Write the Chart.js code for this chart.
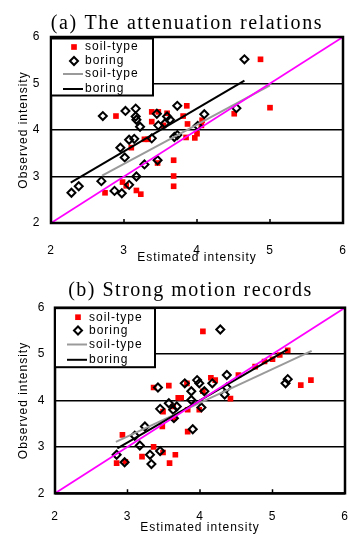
<!DOCTYPE html>
<html>
<head>
<meta charset="utf-8">
<script src="https://cdn.jsdelivr.net/npm/chart.js@4.4.1/dist/chart.umd.min.js"></script>
<style>
  html, body { margin: 0; padding: 0; background: #fff; overflow: hidden; width: 349px; height: 534px; }
  .panel { position: absolute; left: 0; }
</style>
</head>
<body>
<div class="panel" style="top:0;width:349px;height:267px"><canvas id="chartA"></canvas></div>
<div class="panel" style="top:267px;width:351px;height:270px"><canvas id="chartB"></canvas></div>
<script>
// ---- data ----
const TICK_MIN = 2, TICK_MAX = 6, TICK_STEP = 1;
const LEGEND_LABELS = ['soil-type', 'boring', 'soil-type', 'boring'];
const TITLE_A = '(a) The attenuation relations';
const TITLE_B = '(b) Strong motion records';
const X_TITLE = 'Estimated intensity';
const Y_TITLE = 'Observed intensity';
const IDENTITY = [[2, 2], [6, 6]];

// (a) attenuation relations
const A_SOIL = [
  [4.87, 5.52], [5.00, 4.48], [4.51, 4.35], [2.89, 4.30], [3.38, 4.39], [3.47, 4.39],
  [3.59, 4.36], [3.86, 4.52], [3.81, 4.30], [3.38, 4.18], [3.54, 4.10], [3.87, 4.13],
  [4.06, 4.10], [4.07, 4.21], [3.85, 3.84], [3.97, 3.83], [4.00, 3.92], [3.28, 3.80],
  [3.33, 3.80], [3.10, 3.62], [3.46, 3.29], [3.68, 3.35], [3.68, 3.01], [3.68, 2.79],
  [2.74, 2.65], [2.98, 2.88], [3.03, 2.80], [3.17, 2.70], [3.23, 2.62]
];
const A_BORING = [
  [4.65, 5.52], [2.71, 4.30], [3.02, 4.41], [3.16, 4.46], [3.16, 4.29], [3.17, 4.22],
  [3.22, 4.07], [3.45, 4.35], [3.59, 4.29], [3.63, 4.22], [3.73, 4.52], [3.47, 4.10],
  [3.56, 4.14], [4.10, 4.34], [4.54, 4.47], [4.01, 4.09], [3.38, 3.82], [3.69, 3.85],
  [3.73, 3.89], [3.07, 3.79], [3.14, 3.81], [2.95, 3.62], [3.01, 3.41], [3.28, 3.26],
  [3.46, 3.35], [2.69, 2.90], [3.17, 3.00], [3.07, 2.82], [2.87, 2.69], [2.97, 2.64],
  [2.38, 2.79], [2.28, 2.65]
];
const A_SOIL_FIT = [[2.70, 3.02], [5.00, 4.96]];
const A_BORING_FIT = [[2.27, 2.87], [4.65, 5.06]];

// (b) strong motion records
const B_SOIL = [
  [4.04, 5.49], [5.39, 4.33], [5.53, 4.44], [4.15, 4.49], [4.21, 4.44], [3.57, 4.32],
  [3.36, 4.28], [3.82, 4.37], [3.70, 4.06], [3.74, 4.06], [4.04, 4.20], [4.42, 4.04],
  [3.49, 3.76], [3.63, 3.87], [3.83, 3.80], [3.99, 3.80], [3.64, 3.62], [3.48, 3.44],
  [3.83, 3.33], [2.93, 3.26], [3.36, 3.00], [3.49, 2.88], [3.20, 2.79], [3.66, 2.83],
  [2.85, 2.65], [3.58, 2.65], [2.97, 2.68], [4.53, 4.55], [4.76, 4.73], [4.89, 4.84],
  [5.00, 4.89], [5.10, 4.98], [5.21, 5.08]
];
const B_BORING = [
  [4.28, 5.53], [5.18, 4.37], [5.21, 4.46], [4.37, 4.55], [4.37, 4.28], [3.42, 4.28],
  [3.79, 4.37], [3.96, 4.44], [3.99, 4.37], [3.88, 4.20], [4.17, 4.37], [4.06, 4.20],
  [3.45, 3.82], [3.57, 3.94], [3.68, 3.87], [3.63, 3.80], [3.88, 4.01], [3.64, 3.62],
  [3.90, 3.38], [3.24, 3.44], [3.10, 3.24], [3.17, 3.03], [2.85, 2.83], [2.96, 2.67],
  [3.31, 2.83], [3.33, 2.63], [3.45, 2.91], [4.02, 3.85], [4.34, 4.13]
];
const B_SOIL_FIT = [[2.84, 3.11], [5.54, 5.07]];
const B_BORING_FIT = [[2.86, 2.97], [5.21, 5.10]];

// ---- drawing ----
const SANS = '"Liberation Sans", Arial, sans-serif';
const SERIF = '"Liberation Serif", "Times New Roman", serif';
Chart.defaults.font.family = SANS;
Chart.defaults.color = '#000';

const toXY = pts => pts.map(([x, y]) => ({ x, y }));

// frame, inner x tick marks, boxed legend and the serif title
const panelDecor = {
  id: 'panelDecor',
  beforeDraw(chart) { chart.ctx.letterSpacing = '1px'; },
  afterDraw(chart, args, opts) {
    const { ctx, chartArea: ca, scales: { x } } = chart;
    ctx.save();
    ctx.strokeStyle = '#000';
    ctx.lineWidth = 1.5;
    ctx.beginPath();
    x.ticks.forEach(t => {
      const px = x.getPixelForValue(t.value);
      ctx.moveTo(px, ca.bottom);
      ctx.lineTo(px, ca.bottom - 4);
    });
    ctx.stroke();
    ctx.lineWidth = 2.5;
    ctx.strokeRect(ca.left, ca.top, ca.right - ca.left, ca.bottom - ca.top);

    // legend box
    const lx = ca.left, ly = ca.top + opts.legendDy;
    ctx.fillStyle = '#fff';
    ctx.fillRect(lx, ly, opts.legendW, opts.legendH);
    ctx.lineWidth = 2;
    ctx.strokeRect(lx, ly, opts.legendW, opts.legendH);
    const rows = chart.data.datasets.filter(d => d.legendRow !== undefined)
      .sort((a, b) => a.legendRow - b.legendRow);
    ctx.font = '12px ' + SANS;
    ctx.textBaseline = 'middle';
    ctx.textAlign = 'left';
    rows.forEach((d, i) => {
      const ry = ly + opts.rowY[i];
      const mx = lx + 23;
      ctx.beginPath();
      if (d.showLine) {
        ctx.strokeStyle = d.borderColor; ctx.lineWidth = d.borderWidth;
        ctx.moveTo(lx + 12, ry); ctx.lineTo(lx + 32, ry); ctx.stroke();
      } else if (d.pointStyle === 'rect') {
        const s = Math.SQRT1_2 * d.pointRadius;
        ctx.fillStyle = d.backgroundColor;
        ctx.fillRect(mx - s, ry - s, 2 * s, 2 * s);
      } else {
        const r = d.pointRadius;
        ctx.strokeStyle = d.borderColor; ctx.lineWidth = d.borderWidth;
        ctx.moveTo(mx - r, ry); ctx.lineTo(mx, ry - r); ctx.lineTo(mx + r, ry); ctx.lineTo(mx, ry + r);
        ctx.closePath(); ctx.stroke();
      }
      ctx.fillStyle = '#000';
      ctx.fillText(d.label, lx + 34, ry);
    });

    // title
    ctx.letterSpacing = opts.titleSpacing;
    ctx.font = '20px ' + SERIF;
    ctx.textAlign = 'center';
    ctx.textBaseline = 'alphabetic';
    ctx.fillStyle = '#000';
    ctx.fillText(opts.title, (ca.left + ca.right) / 2 + opts.titleDx, opts.titleBaseline);
    ctx.restore();
  }
};

function makeChart(id, geo, soil, boring, soilFit, boringFit) {
  return new Chart(document.getElementById(id), {
    type: 'scatter',
    data: {
      datasets: [
        { label: 'y=x', data: toXY(IDENTITY), showLine: true, borderColor: '#ff00ff', borderWidth: 1.8, pointRadius: 0, order: 0 },
        { label: LEGEND_LABELS[3], legendRow: 3, data: toXY(boringFit), showLine: true, borderColor: '#000000', borderWidth: 2, pointRadius: 0, order: 1 },
        { label: LEGEND_LABELS[2], legendRow: 2, data: toXY(soilFit), showLine: true, borderColor: '#9a9a9a', borderWidth: 2, pointRadius: 0, order: 2 },
        { label: LEGEND_LABELS[1], legendRow: 1, data: toXY(boring), pointStyle: 'rectRot', pointRadius: 4, borderColor: '#000000', borderWidth: 2, backgroundColor: 'rgba(0,0,0,0)', order: 3 },
        { label: LEGEND_LABELS[0], legendRow: 0, data: toXY(soil), pointStyle: 'rect', pointRadius: 4, backgroundColor: '#ff0000', borderColor: '#ff0000', borderWidth: 0, order: 4 }
      ]
    },
    options: {
      responsive: true,
      maintainAspectRatio: false,
      animation: false,
      events: [],
      layout: { padding: { top: geo.top, right: geo.right, left: 0, bottom: 0 } },
      plugins: {
        legend: { display: false },
        tooltip: { enabled: false },
        panelDecor: {
          title: geo.title, titleDx: geo.titleDx, titleBaseline: geo.titleBaseline, titleSpacing: geo.titleSpacing,
          legendDy: geo.legendDy, legendW: geo.legendW, legendH: geo.legendH, rowY: geo.rowY
        }
      },
      scales: {
        x: {
          type: 'linear', min: TICK_MIN, max: TICK_MAX,
          ticks: { stepSize: TICK_STEP, padding: geo.xTickPad, font: { size: 12 } },
          grid: { display: false },
          border: { display: false },
          title: { display: true, text: X_TITLE, font: { size: 12 }, padding: { top: 0, bottom: geo.xTitlePad } },
          afterFit(s) { s.height = geo.xHeight; s.paddingLeft = 0; s.paddingRight = 0; }
        },
        y: {
          type: 'linear', min: TICK_MIN, max: TICK_MAX,
          ticks: { stepSize: TICK_STEP, padding: geo.yTickPad, font: { size: 12 } },
          grid: { color: '#000', lineWidth: 1.6, drawTicks: false },
          border: { display: false },
          title: { display: true, text: Y_TITLE, font: { size: 12 }, padding: { top: geo.yTitlePad, bottom: 0 } },
          afterFit(s) { s.width = geo.yWidth; s.paddingTop = 0; s.paddingBottom = 0; }
        }
      }
    },
    plugins: [panelDecor]
  });
}

makeChart('chartA', {
  top: 37, right: 2, xHeight: 44, yWidth: 51,
  xTickPad: 12, yTickPad: 10.5, xTitlePad: 2.3, yTitlePad: 16,
  title: TITLE_A, titleDx: -10, titleBaseline: 28.5, titleSpacing: '1.6px',
  legendDy: 1.5, legendW: 102, legendH: 57, rowY: [8.5, 22.5, 35.5, 50.5]
}, A_SOIL, A_BORING, A_SOIL_FIT, A_BORING_FIT);

makeChart('chartB', {
  top: 40.7, right: 1.5, xHeight: 43.7, yWidth: 55,
  xTickPad: 8.5, yTickPad: 9.7, xTitlePad: 2.3, yTitlePad: 16.8,
  title: TITLE_B, titleDx: -9.5, titleBaseline: 28.7, titleSpacing: '1.5px',
  legendDy: 0.5, legendW: 100, legendH: 59, rowY: [9, 22.3, 36.3, 51.6]
}, B_SOIL, B_BORING, B_SOIL_FIT, B_BORING_FIT);
</script>
</body>
</html>
